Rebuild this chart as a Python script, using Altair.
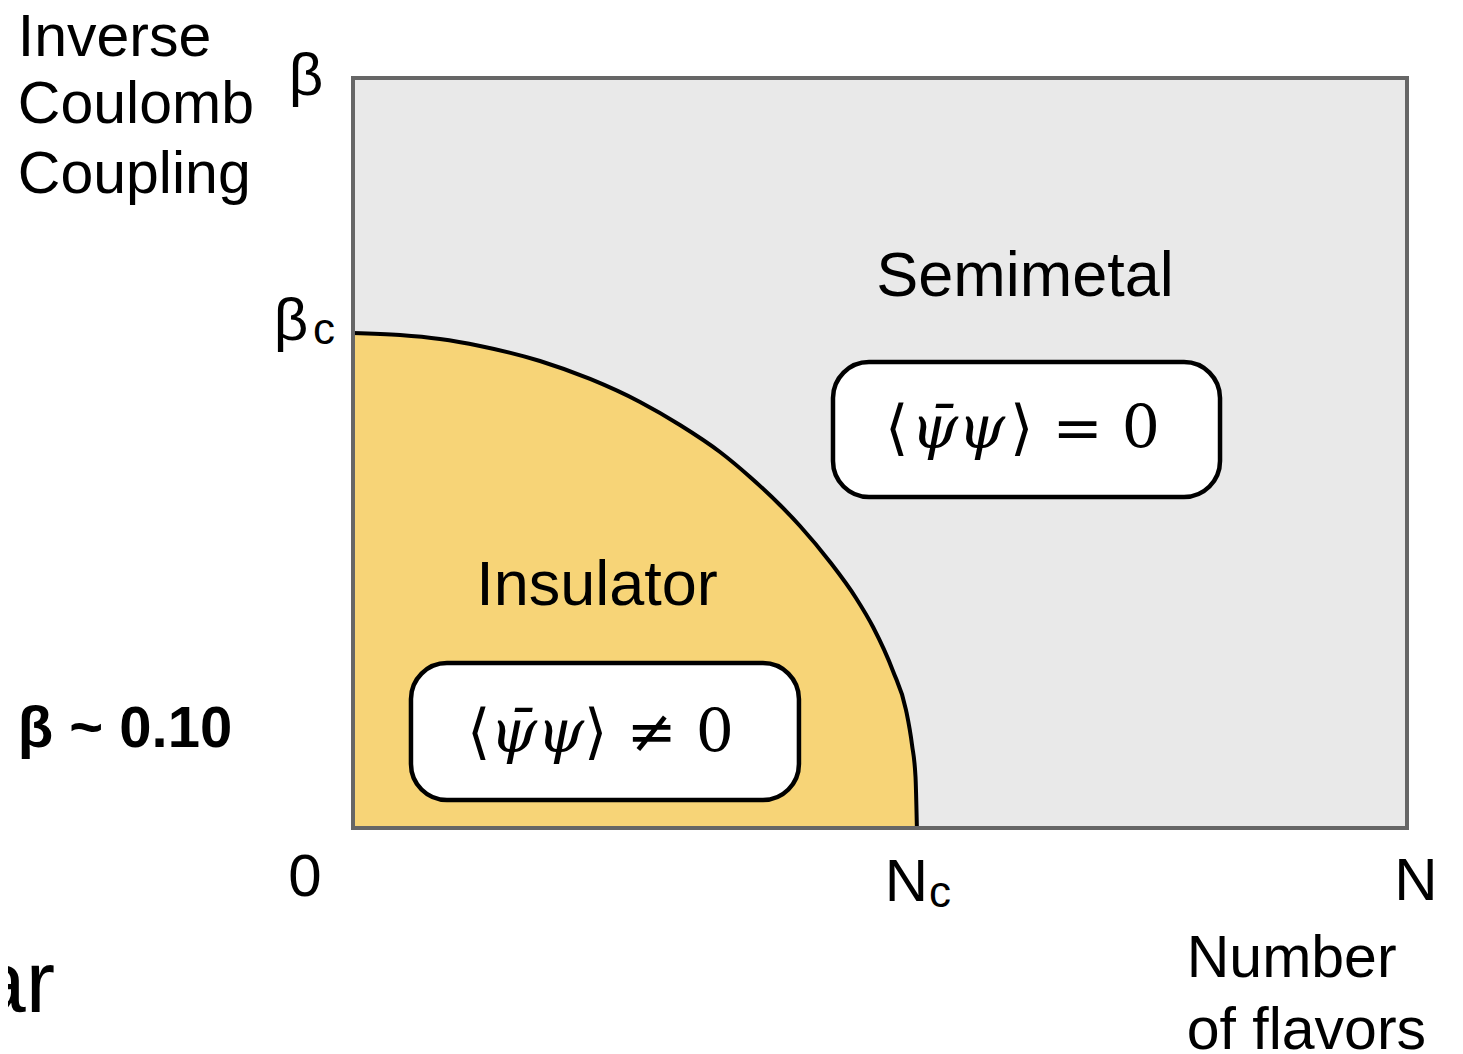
import altair as alt
import pandas as pd

# ---- data (N: number of flavors, beta: inverse Coulomb coupling; both scaled 0..1) ----
N_c = 0.535
beta_c = 0.660

boundary_N = [0.0, 0.0446, 0.0825, 0.1205, 0.1774, 0.2249, 0.2723, 0.3102, 0.3482, 0.3767,
              0.4051, 0.4241, 0.4526, 0.4772, 0.4934, 0.5123, 0.5247, 0.5304, 0.5337, 0.535]
boundary_beta = [0.660, 0.6573, 0.652, 0.6427, 0.6227, 0.5987, 0.568, 0.5373, 0.5013, 0.468,
                 0.4307, 0.4027, 0.3547, 0.3067, 0.268, 0.2093, 0.1573, 0.1107, 0.068, 0.0]

# order-parameter boxes
box_names = ["semimetal", "insulator"]
box_x = [0.4554, 0.0550]
box_x2 = [0.8226, 0.4231]
box_y = [0.4413, 0.0373]
box_y2 = [0.6213, 0.2200]

# annotations
sans_left_text = ["Inverse", "Coulomb", "Coupling", "Number", "of flavors"]
sans_left_x = [-0.318, -0.318, -0.318, 0.791, 0.791]
sans_left_y = [1.029, 0.940, 0.847, -0.199, -0.294]

sans_center_text = ["β", "β", "0", "N", "N", "Semimetal", "Insulator"]
sans_center_x = [-0.0446, -0.0588, -0.0455, 0.525, 1.0085, 0.6376, 0.2315]
sans_center_y = [0.977, 0.651, -0.0907, -0.097, -0.096, 0.709, 0.297]
sans_center_size = [60, 60, 60, 60, 60, 63, 63]

sub_text = ["c", "c"]
sub_x = [-0.0275, 0.557]
sub_y = [0.645, -0.105]

bold_text = ["β ~ 0.10"]
bold_x = [-0.318]
bold_y = [0.108]

# formula pieces: opening bracket, italic fields, closing part
open_text = ["⟨", "⟨"]
open_x = [0.5047, 0.1082]
field_text = ["ψ̄ψ", "ψ̄ψ"]
field_x = [0.5740, 0.1746]
close_text = ["⟩ = 0", "⟩ ≠ 0"]
close_x = [0.7657, 0.3615]
formula_y = [0.507, 0.101]

edge_text = ["ar"]
edge_x = [-0.2827]
edge_y = [-0.245]

# ---- chart ----
xs = alt.Scale(domain=[0, 1], nice=False, zero=False)
ys = alt.Scale(domain=[0, 1], nice=False, zero=False)

frame = pd.DataFrame({"x": [0.0], "x2": [1.0], "y": [0.0], "y2": [1.0]})
bnd = pd.DataFrame({"N": boundary_N, "beta": boundary_beta})
boxes = pd.DataFrame({"name": box_names, "x": box_x, "x2": box_x2, "y": box_y, "y2": box_y2})

background = alt.Chart(frame).mark_rect(fill="#e9e9e9").encode(
    x=alt.X("x:Q", scale=xs, axis=None), x2="x2:Q",
    y=alt.Y("y:Q", scale=ys, axis=None), y2="y2:Q")

insulator = alt.Chart(bnd).mark_area(fill="#f7d477", opacity=1, interpolate="monotone").encode(
    x=alt.X("N:Q", scale=xs, axis=None),
    y=alt.Y("beta:Q", scale=ys, axis=None),
    y2=alt.datum(0))

curve = alt.Chart(bnd).mark_line(color="black", strokeWidth=4, interpolate="monotone").encode(
    x=alt.X("N:Q", scale=xs, axis=None),
    y=alt.Y("beta:Q", scale=ys, axis=None))

border = alt.Chart(frame).mark_rect(fillOpacity=0, stroke="#666666", strokeWidth=4).encode(
    x=alt.X("x:Q", scale=xs, axis=None), x2="x2:Q",
    y=alt.Y("y:Q", scale=ys, axis=None), y2="y2:Q")

box_layer = alt.Chart(boxes).mark_rect(fill="white", stroke="black", strokeWidth=4.5,
                                       cornerRadius=36).encode(
    x=alt.X("x:Q", scale=xs, axis=None), x2="x2:Q",
    y=alt.Y("y:Q", scale=ys, axis=None), y2="y2:Q")


def text_layer(texts, xv, yv, sizes, **mark):
    df = pd.DataFrame({"t": texts, "x": xv, "y": yv, "s": sizes})
    return alt.Chart(df).mark_text(baseline="alphabetic", color="black", **mark).encode(
        x=alt.X("x:Q", scale=xs, axis=None),
        y=alt.Y("y:Q", scale=ys, axis=None),
        text="t:N",
        size=alt.Size("s:Q", scale=None, legend=None))


t_left = text_layer(sans_left_text, sans_left_x, sans_left_y, [59] * 5,
                    align="left", font="Liberation Sans")
t_center = text_layer(sans_center_text, sans_center_x, sans_center_y, sans_center_size,
                      align="center", font="Liberation Sans")
t_sub = text_layer(sub_text, sub_x, sub_y, [44, 44], align="center", font="Liberation Sans")
t_bold = text_layer(bold_text, bold_x, bold_y, [58], align="left", font="Liberation Sans",
                    fontWeight="bold")
t_open = text_layer(open_text, open_x, formula_y, [60, 60], align="left", font="DejaVu Serif")
t_field = text_layer(field_text, field_x, formula_y, [60, 60], align="center",
                     font="DejaVu Serif", fontStyle="italic")
t_close = text_layer(close_text, close_x, formula_y, [60, 60], align="right", font="DejaVu Serif")
t_edge = text_layer(edge_text, edge_x, edge_y, [88], align="right", font="Liberation Sans")

chart = alt.layer(background, insulator, curve, border, box_layer,
                  t_left, t_center, t_sub, t_bold, t_open, t_field, t_close, t_edge).properties(
    width=1054, height=750,
    autosize=alt.AutoSizeParams(type="none"),
    padding={"left": 345, "top": 70, "right": 48, "bottom": 226},
).configure_view(stroke=None, strokeWidth=0)

chart.save("out.html", embed_options={"renderer": "svg", "actions": False})
